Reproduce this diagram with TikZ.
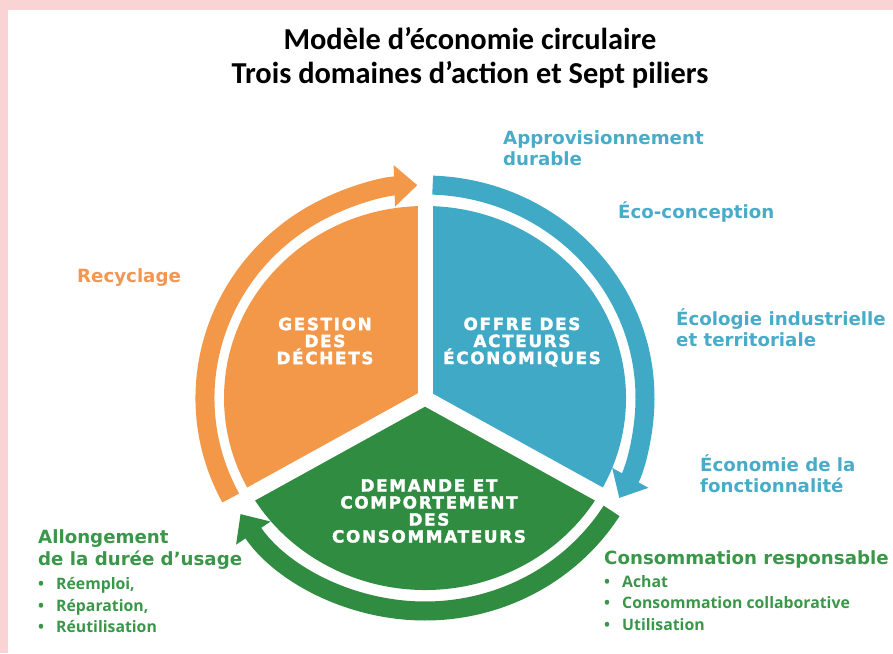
\documentclass[tikz,border=0pt]{standalone}
\usepackage{fontspec}
\setmainfont{Carlito}
\newfontfamily\headfont{DejaVu Sans}
\newfontfamily\itemfont{Open Sans}
\newfontfamily\capsfont[BoldFeatures={FakeBold=2},LetterSpace=10]{DejaVu Sans}
\usetikzlibrary{arrows.meta}

\definecolor{orangedom}{RGB}{243,151,72}
\definecolor{bluedom}{RGB}{64,170,198}
\definecolor{greendom}{RGB}{47,140,65}
\definecolor{orangetxt}{RGB}{242,150,82}
\definecolor{bluetxt}{RGB}{72,172,200}
\definecolor{greentxt}{RGB}{58,150,72}
\definecolor{pinkframe}{RGB}{250,212,212}

\tikzset{
  pillar/.style={anchor=base west, inner sep=0pt, align=left,
    font=\headfont\bfseries\fontsize{18.2}{21.5}\selectfont},
  bulletitem/.style={anchor=base west, inner sep=0pt,
    font=\itemfont\bfseries\fontsize{15.8}{21}\selectfont},
  domainlabel/.style={align=center, inner sep=0pt, text=white,
    font=\capsfont\bfseries\fontsize{16.8}{17}\selectfont},
  ring/.style={line width=19pt},
  ringtip/.style={-{Triangle[width=40pt,length=23pt]}},
  gapline/.style={white, line width=15pt}
}

\begin{document}
\begin{tikzpicture}[x=1pt,y=1pt]
\useasboundingbox (0,0) rectangle (893,653);
\fill[pinkframe] (0,643) rectangle (893,653);
\fill[pinkframe] (0,0) rectangle (8,653);

\node[anchor=base, align=center, font=\bfseries\fontsize{30.4}{34}\selectfont] (title) at (470,569)
  {Modèle d’économie circulaire\\Trois domaines d’action et Sept piliers};

\coordinate (C) at (425,255);

% sectors
\fill[orangedom] (C) -- ++(90:201 and 192) arc[start angle=90, end angle=210, x radius=201, y radius=192] -- cycle;
\fill[bluedom] (C) -- ++(-30:201 and 192) arc[start angle=-30, end angle=90, x radius=201, y radius=192] -- cycle;
\fill[greendom] (C) -- ++(210:201 and 192) arc[start angle=210, end angle=330, x radius=201, y radius=192] -- cycle;
\foreach \a in {90,210,330}
  \draw[gapline] (C) -- ++(\a:206 and 197);

% ring of arrows
\draw[ring, bluedom, ringtip] (C) ++(88:220 and 213) arc[start angle=88, end angle=-28, x radius=220, y radius=213];
\draw[ring, orangedom, ringtip] (C) ++(208:220 and 213) arc[start angle=208, end angle=92, x radius=220, y radius=213];
\draw[ring, greendom, ringtip] (C) ++(-32:220 and 213) arc[start angle=-32, end angle=-147, x radius=220, y radius=213];

\node[domainlabel] (gestion) at (325,312) {GESTION\\DES\\DÉCHETS};
\node[domainlabel] (offre) at (522,311) {OFFRE DES\\ACTEURS\\ÉCONOMIQUES};
\node[domainlabel] (demande) at (429,142) {DEMANDE ET\\COMPORTEMENT\\DES\\CONSOMMATEURS};

\node[pillar, text=bluetxt] (approv) at (503,487) {Approvisionnement\\durable};
\node[pillar, text=bluetxt] (ecoconc) at (618,434) {Éco-conception};
\node[pillar, text=bluetxt] (ecolind) at (676,306) {Écologie industrielle\\et territoriale};
\node[pillar, text=bluetxt] (econfonc) at (700,160) {Économie de la\\fonctionnalité};
\node[pillar, text=orangetxt] (recyc) at (77,370) {Recyclage};

\node[pillar, text=greentxt] (allong) at (38,88) {Allongement\\de la durée d’usage};
\node[bulletitem, text=greentxt] (reemploi) at (38,64) {\makebox[18pt][l]{•}Réemploi,};
\node[bulletitem, text=greentxt] (reparation) at (38,42) {\makebox[18pt][l]{•}Réparation,};
\node[bulletitem, text=greentxt] (reutil) at (38,21) {\makebox[18pt][l]{•}Réutilisation};

\node[pillar, text=greentxt] (consresp) at (604,89) {Consommation responsable};
\node[bulletitem, text=greentxt] (achat) at (604,66) {\makebox[18pt][l]{•}Achat};
\node[bulletitem, text=greentxt] (conscollab) at (604,45) {\makebox[18pt][l]{•}Consommation collaborative};
\node[bulletitem, text=greentxt] (utilis) at (604,23) {\makebox[18pt][l]{•}Utilisation};
\end{tikzpicture}
\end{document}
